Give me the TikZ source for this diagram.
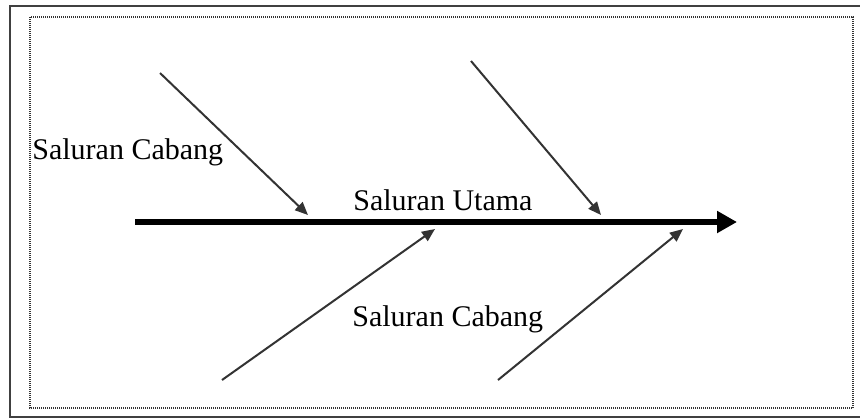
\documentclass[tikz,border=0pt]{standalone}
\usepackage{fontspec}
\setmainfont{Liberation Serif}
\usetikzlibrary{arrows.meta}
\tikzset{
  lbl/.style={anchor=base west,inner sep=0pt,font=\fontsize{15}{18}\selectfont},
  cabang/.style={line width=1pt,draw=black!80,-{Triangle[length=6.5pt,width=5.5pt]}},
  utama/.style={line width=3pt,-{Triangle[length=10pt,width=10.5pt]}}
}
\begin{document}
\begin{tikzpicture}[x=0.5pt,y=-0.5pt]
\useasboundingbox(0,0)rectangle(860,419);
\clip(0,0)rectangle(860,419);
\draw[line width=1.2pt,black!75](10,6)rectangle(875,417); %outer frame
\draw[line width=0.6pt,black!80,dash pattern=on 0.5pt off 0.5pt](30,17)rectangle(853,408); %dotted frame
%main line
\coordinate(u1)at(135,222);
\coordinate(u2)at(737,222);
\draw[utama](u1)--(u2);
%branches
\coordinate(a1)at(160,73); \coordinate(a2)at(308,215);
\coordinate(b1)at(471,61); \coordinate(b2)at(601,215);
\coordinate(c1)at(222,380); \coordinate(c2)at(435,229);
\coordinate(d1)at(498,380); \coordinate(d2)at(683,229);
\draw[cabang](a1)--(a2);
\draw[cabang](b1)--(b2);
\draw[cabang](c1)--(c2);
\draw[cabang](d1)--(d2);
%labels
\node[lbl](cabangatas)at(32,159){Saluran Cabang};
\node[lbl](utamalbl)at(353,210){Saluran Utama};
\node[lbl](cabangbawah)at(352,326){Saluran Cabang};
\end{tikzpicture}
\end{document}
